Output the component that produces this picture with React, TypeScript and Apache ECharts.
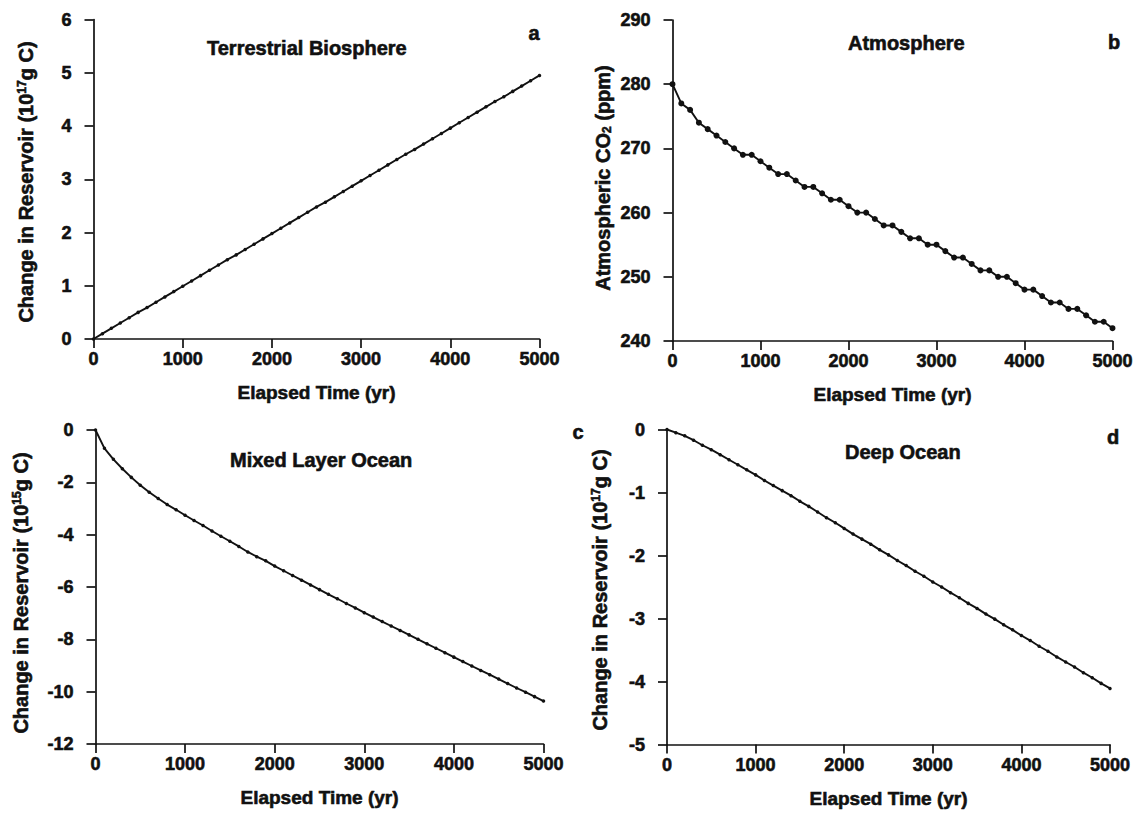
import React, { useEffect, useRef } from "react";
import * as echarts from "echarts";

const years = [
  0, 100, 200, 300, 400, 500, 600, 700, 800, 900, 1000, 1100, 1200, 1300, 1400, 1500, 1600, 1700,
  1800, 1900, 2000, 2100, 2200, 2300, 2400, 2500, 2600, 2700, 2800, 2900, 3000, 3100, 3200, 3300,
  3400, 3500, 3600, 3700, 3800, 3900, 4000, 4100, 4200, 4300, 4400, 4500, 4600, 4700, 4800, 4900, 5000,
];

const terrestrial = [
  0, 0.1, 0.2, 0.3, 0.4, 0.5, 0.59, 0.69, 0.79, 0.89, 0.99, 1.09, 1.19, 1.29, 1.39, 1.49, 1.58,
  1.68, 1.78, 1.88, 1.98, 2.08, 2.18, 2.28, 2.38, 2.48, 2.57, 2.67, 2.77, 2.87, 2.97, 3.07, 3.17,
  3.27, 3.37, 3.47, 3.56, 3.66, 3.76, 3.86, 3.96, 4.06, 4.16, 4.26, 4.36, 4.46, 4.55, 4.65, 4.75,
  4.85, 4.95,
];

const atmosphere = [
  280, 277, 276, 274, 273, 272, 271, 270, 269, 269, 268, 267, 266, 266, 265, 264, 264, 263, 262,
  262, 261, 260, 260, 259, 258, 258, 257, 256, 256, 255, 255, 254, 253, 253, 252, 251, 251, 250,
  250, 249, 248, 248, 247, 246, 246, 245, 245, 244, 243, 243, 242,
];

const mixedLayer = [
  0, -0.7, -1.12, -1.48, -1.81, -2.11, -2.38, -2.62, -2.85, -3.05, -3.26, -3.46, -3.65, -3.86,
  -4.06, -4.25, -4.45, -4.66, -4.84, -5.0, -5.2, -5.38, -5.56, -5.74, -5.92, -6.1, -6.28, -6.45,
  -6.63, -6.8, -6.98, -7.15, -7.32, -7.49, -7.66, -7.83, -8.0, -8.17, -8.34, -8.51, -8.68, -8.85,
  -9.02, -9.19, -9.35, -9.52, -9.69, -9.86, -10.02, -10.19, -10.36,
];

const deepOcean = [
  0, -0.05, -0.1, -0.17, -0.25, -0.32, -0.4, -0.48, -0.56, -0.64, -0.72, -0.81, -0.89, -0.97,
  -1.05, -1.14, -1.22, -1.31, -1.4, -1.48, -1.57, -1.66, -1.74, -1.82, -1.91, -1.99, -2.08, -2.16,
  -2.25, -2.33, -2.42, -2.5, -2.59, -2.67, -2.76, -2.84, -2.93, -3.01, -3.1, -3.18, -3.27, -3.35,
  -3.44, -3.52, -3.61, -3.69, -3.77, -3.86, -3.94, -4.03, -4.11,
];

const panelTitles = ["Terrestrial Biosphere", "Atmosphere", "Mixed Layer Ocean", "Deep Ocean"];
const panelLetters = ["a", "b", "c", "d"];
const xAxisName = "Elapsed Time (yr)";

const FONT = "'Liberation Sans', Arial, Helvetica, sans-serif";
const INK = "#111111";

export default function App() {
  const ref = useRef<HTMLDivElement>(null);

  useEffect(() => {
    document.body.style.margin = "0";
    const chart = echarts.init(ref.current as HTMLDivElement, null, { renderer: "svg" });

    const grids = [
      { left: 93.5, top: 19.5, width: 446, height: 319.5 },
      { left: 672.5, top: 20, width: 440, height: 321 },
      { left: 95.5, top: 430, width: 448, height: 314 },
      { left: 667, top: 429.5, width: 443, height: 315 },
    ];

    const yRanges = [
      { min: 0, max: 6, interval: 1 },
      { min: 240, max: 290, interval: 10 },
      { min: -12, max: 0, interval: 2 },
      { min: -5, max: 0, interval: 1 },
    ];

    const seriesData = [terrestrial, atmosphere, mixedLayer, deepOcean];

    const axisLine = { show: true, onZero: false, lineStyle: { color: INK, width: 1.7 } };
    const axisTick = { show: true, inside: false, length: 9, lineStyle: { color: INK, width: 1.7 } };
    const labelStyle = {
      color: INK,
      fontFamily: FONT,
      fontWeight: "bold" as const,
      fontSize: 18,
      textBorderColor: INK,
      textBorderWidth: 0.6,
    };

    const xAxis = grids.map((_, i) => ({
      type: "value",
      gridIndex: i,
      min: 0,
      max: 5000,
      interval: 1000,
      axisLine,
      axisTick,
      splitLine: { show: false },
      axisLabel: { ...labelStyle, margin: 11, formatter: (v: number) => String(v) },
      name: xAxisName,
      nameLocation: "middle",
      nameGap: 44,
      nameTextStyle: { ...labelStyle, fontSize: 19, verticalAlign: "top" },
    }));

    const yAxis = grids.map((_, i) => ({
      type: "value",
      gridIndex: i,
      ...yRanges[i],
      axisLine,
      axisTick,
      splitLine: { show: false },
      axisLabel: { ...labelStyle, margin: 22 },
    }));

    const series = seriesData.map((vals, i) => ({
      type: "line",
      xAxisIndex: i,
      yAxisIndex: i,
      data: years.map((y, k) => [y, vals[k]]),
      symbol: "circle",
      symbolSize: i === 1 ? 6 : 3.5,
      showSymbol: true,
      lineStyle: { color: INK, width: 1.9 },
      itemStyle: { color: INK },
      silent: true,
    }));

    const titlePos = [
      { x: 207, y: 48 },
      { x: 848, y: 43 },
      { x: 230, y: 460 },
      { x: 845, y: 452 },
    ];
    const letterPos = [
      { x: 534, y: 33 },
      { x: 1114, y: 42 },
      { x: 578, y: 432 },
      { x: 1113, y: 437 },
    ];

    const textBase = {
      fill: INK,
      fontFamily: FONT,
      fontWeight: "bold",
      stroke: INK,
      lineWidth: 0.6,
    };

    const graphic: any[] = [];
    panelTitles.forEach((t, i) => {
      graphic.push({
        type: "text",
        x: titlePos[i].x,
        y: titlePos[i].y,
        style: { ...textBase, text: t, fontSize: 20, align: "left", verticalAlign: "middle" },
      });
      graphic.push({
        type: "text",
        x: letterPos[i].x,
        y: letterPos[i].y,
        style: { ...textBase, text: panelLetters[i], fontSize: 20, align: "center", verticalAlign: "middle" },
      });
    });

    const supStyle = { ...textBase, fontSize: 12, verticalAlign: "top" };
    const subStyle = { ...textBase, fontSize: 12, verticalAlign: "bottom" };
    const yNames = [
      { x: 26, y: 182, text: "Change in Reservoir (10{sup|17}g C)" },
      { x: 603, y: 178, text: "Atmospheric CO{sub|2} (ppm)" },
      { x: 21, y: 593, text: "Change in Reservoir (10{sup|15}g C)" },
      { x: 600, y: 590, text: "Change in Reservoir (10{sup|17}g C)" },
    ];
    yNames.forEach((n) => {
      graphic.push({
        type: "text",
        x: n.x,
        y: n.y,
        rotation: Math.PI / 2,
        style: {
          ...textBase,
          text: n.text,
          fontSize: 20,
          align: "center",
          verticalAlign: "middle",
          rich: { sup: supStyle, sub: subStyle },
        },
      });
    });

    chart.setOption({
      animation: false,
      backgroundColor: "#ffffff",
      grid: grids.map((g) => ({ ...g, containLabel: false, outerBoundsMode: "none" })),
      xAxis,
      yAxis,
      series,
      graphic,
    } as any);

    return () => chart.dispose();
  }, []);

  return <div ref={ref} style={{ width: 1135, height: 814 }} />;
}
